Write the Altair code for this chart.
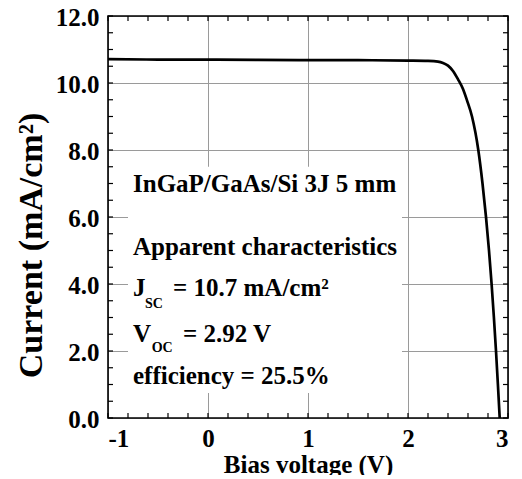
import altair as alt
import pandas as pd

# J-V curve
voltage = [-1.0, -0.5, 0.0, 0.5, 1.0, 1.5, 2.0, 2.2, 2.3, 2.35, 2.4, 2.45, 2.5,
           2.55, 2.59, 2.64, 2.703, 2.745, 2.78, 2.81, 2.836, 2.859,
           2.88, 2.899, 2.917]
current = [10.71, 10.70, 10.70, 10.69, 10.68, 10.68, 10.67, 10.66, 10.64, 10.60,
           10.52, 10.36, 10.11, 9.82, 9.48, 9.0, 8.0, 7.0, 6.0, 5.0, 4.0,
           3.0, 2.0, 1.0, 0.0]

x_major = [-1, 0, 1, 2, 3]
y_major = [0, 2, 4, 6, 8, 10, 12]
x_minor = [-1.0, -0.8, -0.6, -0.4, -0.2, 0.0, 0.2, 0.4, 0.6, 0.8, 1.0, 1.2, 1.4,
           1.6, 1.8, 2.0, 2.2, 2.4, 2.6, 2.8, 3.0]
y_minor = [0.0, 0.5, 1.0, 1.5, 2.0, 2.5, 3.0, 3.5, 4.0, 4.5, 5.0, 5.5, 6.0, 6.5,
           7.0, 7.5, 8.0, 8.5, 9.0, 9.5, 10.0, 10.5, 11.0, 11.5, 12.0]

# annotation pieces
ann_text = ["InGaP/GaAs/Si 3J 5 mm", "Apparent characteristics", "J", "SC",
            "= 10.7 mA/cm²", "V", "OC", "= 2.92 V", "efficiency = 25.5%"]
ann_x = [-0.75, -0.75, -0.75, -0.63, -0.35, -0.75, -0.563, -0.25, -0.75]
ann_y = [6.746, 4.866, 3.642, 3.284, 3.642, 2.269, 1.970, 2.269, 1.015]
ann_size = [25, 25, 25, 14, 25, 25, 14, 25, 25]

# white background box behind the annotation
box_x, box_x2, box_y, box_y2 = [-0.80], [1.94], [0.75], [7.5]

FONT = "Liberation Serif"
W, H = 400, 402
TICK = 5

curve_df = pd.DataFrame({"V": voltage, "J": current})
ann_df = pd.DataFrame({"t": ann_text, "x": ann_x, "y": ann_y, "s": ann_size})
box_df = pd.DataFrame({"x": box_x, "x2": box_x2, "y": box_y, "y2": box_y2})
xm_df = pd.DataFrame({"v": x_minor})
ym_df = pd.DataFrame({"v": y_minor})

xscale = alt.Scale(domain=[-1, 3], nice=False, zero=False)
yscale = alt.Scale(domain=[0, 12], nice=False, zero=False)

x_axis = alt.Axis(values=x_major, labelExpr="'' + datum.value", grid=True,
                  ticks=False, domain=False, labelPadding=8,
                  labelFontSize=25, title="Bias voltage (V)", titleFontSize=25,
                  titleY=54, titleBaseline="alphabetic")
y_axis = alt.Axis(values=y_major, format=".1f", grid=True, ticks=False,
                  domain=False, labelPadding=9, labelFontSize=25, labelOffset=1.5,
                  title="Current (mA/cm²)", titleFontSize=34,
                  titleX=-67, titleY=229, titleBaseline="alphabetic")

box = alt.Chart(box_df).mark_rect(fill="white").encode(
    x=alt.X("x:Q", scale=xscale, axis=x_axis), x2="x2:Q",
    y=alt.Y("y:Q", scale=yscale, axis=y_axis), y2="y2:Q")

line = alt.Chart(curve_df).mark_line(color="black", strokeWidth=2.7,
                                     interpolate="monotone").encode(
    x=alt.X("V:Q", scale=xscale, axis=x_axis),
    y=alt.Y("J:Q", scale=yscale, axis=y_axis))

text = alt.Chart(ann_df).mark_text(font=FONT, fontWeight="bold", align="left",
                                   baseline="alphabetic", color="black").encode(
    x=alt.X("x:Q", scale=xscale, axis=x_axis),
    y=alt.Y("y:Q", scale=yscale, axis=y_axis),
    text="t:N", size=alt.Size("s:Q", scale=None, legend=None))

tick_style = dict(color="black", strokeWidth=1.2)
tb = alt.Chart(xm_df).mark_rule(**tick_style).encode(
    x=alt.X("v:Q", scale=xscale, axis=x_axis), y=alt.value(H), y2=alt.value(H - TICK))
tt = alt.Chart(xm_df).mark_rule(**tick_style).encode(
    x=alt.X("v:Q", scale=xscale, axis=x_axis), y=alt.value(0), y2=alt.value(TICK))
tl = alt.Chart(ym_df).mark_rule(**tick_style).encode(
    y=alt.Y("v:Q", scale=yscale, axis=y_axis), x=alt.value(0), x2=alt.value(TICK))
tr = alt.Chart(ym_df).mark_rule(**tick_style).encode(
    y=alt.Y("v:Q", scale=yscale, axis=y_axis), x=alt.value(W), x2=alt.value(W - TICK))

frame = alt.Chart(box_df).mark_rect(fill=None, stroke="black", strokeWidth=1.6).encode(
    x=alt.value(0), x2=alt.value(W), y=alt.value(0), y2=alt.value(H))

chart = alt.layer(line, box, text, tb, tt, tl, tr, frame).properties(
    width=W, height=H,
    autosize=alt.AutoSizeParams(type="none"),
    padding={"left": 100, "top": 8, "right": 6, "bottom": 57},
).configure(background="white").configure_view(stroke=None).configure_axis(
    labelFont=FONT, labelFontWeight="bold", labelColor="black",
    titleFont=FONT, titleFontWeight="bold", titleColor="black",
    gridColor="#9a9a9a", gridWidth=1, gridOpacity=1,
)

chart.save("out.html", embed_options={"renderer": "svg", "actions": False})
